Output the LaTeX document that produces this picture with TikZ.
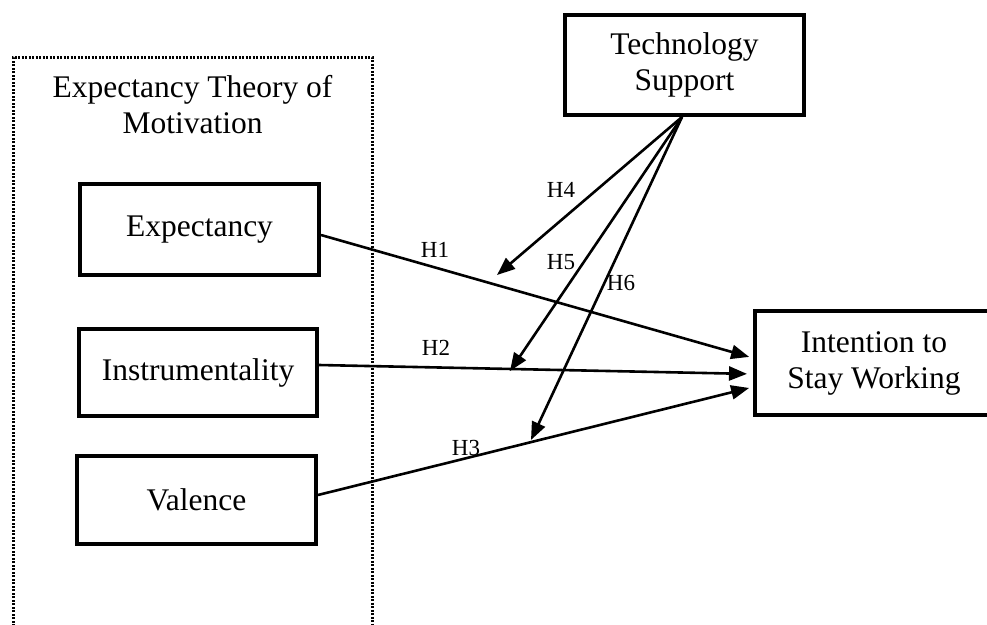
\documentclass[tikz,border=0pt]{standalone}
\usepackage{fontspec}
\setmainfont{Liberation Serif}
\usetikzlibrary{arrows.meta}
\begin{document}
\begin{tikzpicture}[x=1pt,y=-1pt,
  box/.style={draw,line width=4pt,rectangle,inner sep=0pt,align=center,
    font=\fontsize{31.5}{36}\selectfont},
  conn/.style={line width=2.6pt,-{Triangle[length=18pt,width=14pt]}},
  hlab/.style={font=\fontsize{23}{26}\selectfont,inner sep=0pt},
  dotbox/.style={line width=3pt,dash pattern=on 2pt off 1.5pt}]
\useasboundingbox (0,0) rectangle (987,624);
\clip (0,0) rectangle (987,624);
% dotted group
\draw[dotbox] (13,640) -- (13,57) -- (372,57) -- (372,640);
\node[font=\fontsize{31.5}{36}\selectfont,align=center,inner sep=0pt] (title) at (192.5,105) {Expectancy Theory of\\Motivation};
% boxes
\node[box,minimum width=239pt,minimum height=91pt] (exp) at (199.5,229.5) {Expectancy};
\node[box,minimum width=238pt,minimum height=87pt] (ins) at (198,372.5) {Instrumentality};
\node[box,minimum width=239pt,minimum height=88pt] (val) at (196.5,500) {Valence};
\node[box,minimum width=239pt,minimum height=100pt] (tech) at (684.5,65) {Technology\\Support};
\node[box,minimum width=238pt,minimum height=104pt] (int) at (874,363) {Intention to\\Stay Working};
% free ends of moderating arrows
\coordinate (t4) at (497,275);
\coordinate (t5) at (510,371);
\coordinate (t6) at (531,440);
% main paths
\draw[conn,shorten >=4pt] ([yshift=-5.5pt]exp.east) -- ([yshift=5pt]int.west);
\draw[conn,shorten >=6pt] ([yshift=7.5pt]ins.east) -- ([yshift=-11pt]int.west);
\draw[conn,shorten >=4pt] ([yshift=5pt]val.east) -- ([yshift=-24pt]int.west);
% moderating paths
\draw[conn] ([xshift=-2.5pt]tech.south) -- (t4);
\draw[conn] ([xshift=-2.5pt]tech.south) -- (t5);
\draw[conn] ([xshift=-2.5pt]tech.south) -- (t6);
% labels
\node[hlab] (l1) at (435,250) {H1};
\node[hlab] (l2) at (436,348) {H2};
\node[hlab] (l3) at (466,448) {H3};
\node[hlab] (l4) at (561,190) {H4};
\node[hlab] (l5) at (561,262) {H5};
\node[hlab] (l6) at (621,283) {H6};
\end{tikzpicture}
\end{document}
